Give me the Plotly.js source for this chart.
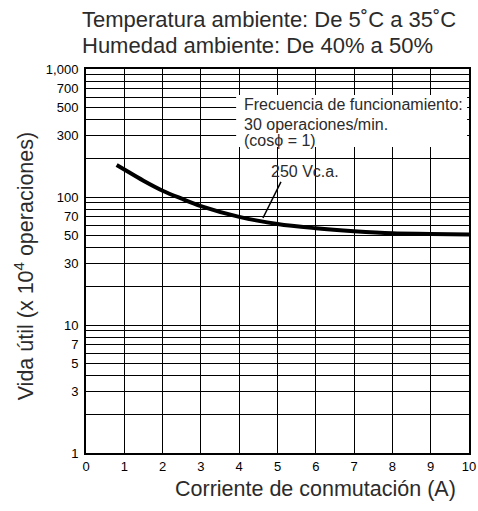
<!DOCTYPE html>
<html><head><meta charset="utf-8">
<script src="https://cdn.plot.ly/plotly-3.0.1.min.js"></script>
<style>html,body{margin:0;padding:0;background:#fff}</style>
</head><body><div id="chart" style="width:478px;height:511px"></div>
<script>
// Data
const current = [0.8, 1, 1.5, 2, 2.5, 3, 4, 5, 6, 7, 8, 9, 10];      // Corriente de conmutación (A)
const life = [178, 164, 134, 112, 97, 85, 70, 61.5, 57, 54, 52, 51.5, 51]; // Vida útil (x 10^4 operaciones)
const seriesName = '250 Vc.a.';

const xTickVals = [0, 1, 2, 3, 4, 5, 6, 7, 8, 9, 10];
const yGridVals = [1, 2, 3, 4, 5, 6, 7, 8, 9, 10, 20, 30, 40, 50, 60, 70, 80, 90,
                   100, 200, 300, 400, 500, 600, 700, 800, 900, 1000];
const yLabelVals = [1, 3, 5, 7, 10, 30, 50, 70, 100, 300, 500, 700, 1000];
const yLabelText = ['1', '3', '5', '7', '10', '30', '50', '70', '100', '300', '500', '700', '1,000'];

const titleLines = ['Temperatura ambiente: De 5˚C a 35˚C', 'Humedad ambiente: De 40% a 50%'];
const xTitle = 'Corriente de conmutación (A)';
const yTitle = 'Vida útil (x 10<sup>4</sup> operaciones)';
const noteLines = ['Frecuencia de funcionamiento:', '30 operaciones/min.', '(cosϕ = 1)'];

const yMinorVals = yGridVals.filter(v => yLabelVals.indexOf(v) < 0);

const FONT = 'Liberation Sans, Arial, Helvetica, sans-serif';
const TXT = '#2b2b2b';

const trace = {
  x: current, y: life, name: seriesName, type: 'scatter', mode: 'lines',
  line: {color: '#000', width: 4, shape: 'spline', smoothing: 1},
  hoverinfo: 'x+y'
};

const annotations = [
  {xref: 'paper', yref: 'paper', x: -0.0157, y: 1.129, xanchor: 'left', yanchor: 'middle',
   text: titleLines[0], showarrow: false, font: {family: FONT, size: 22, color: TXT}},
  {xref: 'paper', yref: 'paper', x: -0.0157, y: 1.0615, xanchor: 'left', yanchor: 'middle',
   text: titleLines[1], showarrow: false, font: {family: FONT, size: 22, color: TXT}},
  {xref: 'paper', yref: 'paper', x: 0.599, y: -0.0945, xanchor: 'center', yanchor: 'middle',
   text: xTitle, showarrow: false, font: {family: FONT, size: 21.5, color: TXT}},
  {xref: 'paper', yref: 'paper', x: -0.161, y: 0.487, xanchor: 'center', yanchor: 'middle',
   textangle: -90, text: yTitle, showarrow: false, font: {family: FONT, size: 21.5, color: TXT}},
  {xref: 'paper', yref: 'paper', x: 0.4073, y: 0.9076, xanchor: 'left', yanchor: 'middle',
   text: noteLines[0], showarrow: false, font: {family: FONT, size: 16, color: TXT}},
  {xref: 'paper', yref: 'paper', x: 0.4073, y: 0.8555, xanchor: 'left', yanchor: 'middle',
   text: noteLines[1], showarrow: false, font: {family: FONT, size: 16, color: TXT}},
  {xref: 'paper', yref: 'paper', x: 0.4073, y: 0.8138, xanchor: 'left', yanchor: 'middle',
   text: noteLines[2], showarrow: false, font: {family: FONT, size: 16, color: TXT}},
  {xref: 'paper', yref: 'paper', x: 0.572, y: 0.732, xanchor: 'center', yanchor: 'middle',
   text: seriesName, showarrow: false, font: {family: FONT, size: 16, color: TXT}}
];

const shapes = [
  {type: 'rect', xref: 'paper', yref: 'paper', x0: 0.392, x1: 0.995, y0: 0.797, y1: 0.932,
   fillcolor: '#fff', line: {width: 0}, layer: 'above'},
  {type: 'line', xref: 'paper', yref: 'paper', x0: 0.462, y0: 0.612, x1: 0.509, y1: 0.706,
   line: {color: '#000', width: 1.5}, layer: 'above'}
];

const layout = {
  width: 478, height: 511,
  margin: {l: 86, r: 9, t: 69, b: 58, pad: 0},
  paper_bgcolor: '#fff', plot_bgcolor: '#fff',
  showlegend: false,
  xaxis: {
    range: [0, 10], tickvals: xTickVals, ticktext: xTickVals.map(String),
    showgrid: true, gridcolor: '#000', gridwidth: 1, zeroline: false,
    showline: true, linecolor: '#000', linewidth: 2, mirror: true,
    ticks: '', tickfont: {family: FONT, size: 13, color: '#000'}
  },
  yaxis: {
    type: 'log', range: [0, 3], tickvals: yLabelVals, ticktext: yLabelText,
    showgrid: true, gridcolor: '#000', gridwidth: 1, zeroline: false,
    showline: true, linecolor: '#000', linewidth: 2, mirror: true,
    ticks: 'outside', ticklen: 3, tickcolor: 'rgba(0,0,0,0)',
    tickfont: {family: FONT, size: 13, color: '#000'},
    minor: {tickmode: 'array', tickvals: yMinorVals, showgrid: true, gridcolor: '#000', gridwidth: 1, ticks: ''}
  },
  annotations: annotations,
  shapes: shapes
};

Plotly.newPlot('chart', [trace], layout, {displayModeBar: false, staticPlot: true});
</script></body></html>
